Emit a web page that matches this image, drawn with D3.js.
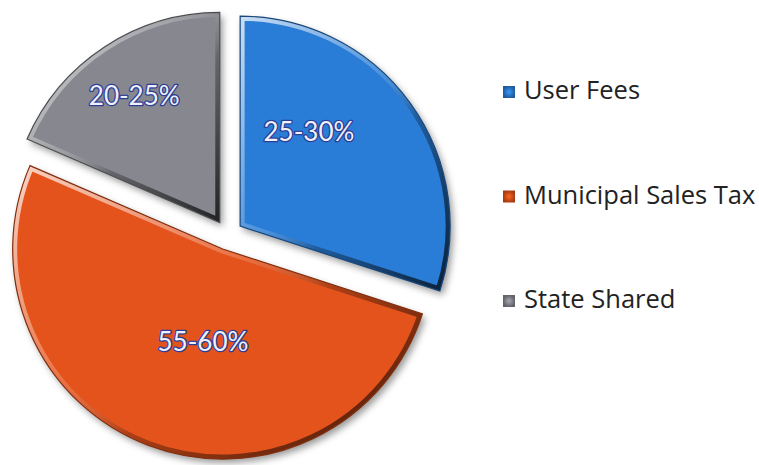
<!DOCTYPE html>
<html>
<head>
<meta charset="utf-8">
<script src="https://d3js.org/d3.v7.min.js"></script>
<style>
  html, body { margin: 0; padding: 0; background: #fff; }
  svg { display: block; }
</style>
</head>
<body>
<div id="vis-container"></div>
<script>
// Revenue sources pie (exploded)
const categories = ["User Fees", "Municipal Sales Tax", "State Shared"];
const shares = [30, 51.5, 18.5];
const sliceLabels = ["25-30%", "55-60%", "20-25%"];
const colors = ["#2c7dd6", "#e5521a", "#87888f"];

const width = 759;
const height = 465;
const center = [228, 235];
const radius = 210;
const explode = 15;

// label spots: angle (deg, clockwise from top) and distance from slice tip
const labelSpots = [[36, 117], [192, 95], [326, 153]];

const svg = d3.select("#vis-container")
  .append("svg")
  .attr("width", width)
  .attr("height", height);

const defs = svg.append("defs");

const shadow = defs.append("filter")
  .attr("id", "shadow")
  .attr("x", "-20%").attr("y", "-20%")
  .attr("width", "140%").attr("height", "140%");
shadow.append("feDropShadow")
  .attr("dx", 3).attr("dy", 4)
  .attr("stdDeviation", 3.5)
  .attr("flood-color", "#000")
  .attr("flood-opacity", 0.4);

const bevel = defs.append("linearGradient")
  .attr("id", "bevel")
  .attr("x1", 0).attr("y1", 0).attr("x2", 1).attr("y2", 1);
bevel.append("stop").attr("offset", "0%").attr("stop-color", "#fff").attr("stop-opacity", 0.75);
bevel.append("stop").attr("offset", "45%").attr("stop-color", "#fff").attr("stop-opacity", 0.15);
bevel.append("stop").attr("offset", "60%").attr("stop-color", "#000").attr("stop-opacity", 0.25);
bevel.append("stop").attr("offset", "100%").attr("stop-color", "#000").attr("stop-opacity", 0.75);

const pie = d3.pie().sort(null).value(d => d)(shares);
const arc = d3.arc().innerRadius(0).outerRadius(radius);

const slices = svg.append("g")
  .attr("transform", `translate(${center[0]},${center[1]})`)
  .selectAll("g.slice")
  .data(pie)
  .enter()
  .append("g")
  .attr("class", "slice")
  .attr("transform", d => {
    const mid = (d.startAngle + d.endAngle) / 2;
    return `translate(${Math.sin(mid) * explode},${-Math.cos(mid) * explode})`;
  });

slices.each(function (d, i) {
  defs.append("clipPath").attr("id", "clip" + i)
    .append("path").attr("d", arc(d));
});

slices.append("path")
  .attr("d", arc)
  .attr("fill", (d, i) => colors[i])
  .attr("filter", "url(#shadow)");

slices.append("path")
  .attr("d", arc)
  .attr("fill", "none")
  .attr("stroke", "url(#bevel)")
  .attr("stroke-width", 9)
  .attr("stroke-linejoin", "round")
  .attr("clip-path", (d, i) => `url(#clip${i})`);

slices.append("path")
  .attr("d", arc)
  .attr("fill", "none")
  .attr("stroke", (d, i) => d3.color(colors[i]).darker(1.6))
  .attr("stroke-width", 1.2);

slices.append("text")
  .text((d, i) => sliceLabels[i])
  .attr("x", (d, i) => Math.sin(labelSpots[i][0] * Math.PI / 180) * labelSpots[i][1])
  .attr("y", (d, i) => -Math.cos(labelSpots[i][0] * Math.PI / 180) * labelSpots[i][1])
  .attr("dy", "0.36em")
  .attr("text-anchor", "middle")
  .attr("font-family", "Lato, 'Open Sans', sans-serif")
  .attr("font-size", 26)
  .attr("fill", "#eef0fb")
  .attr("stroke", "#2c3d96")
  .attr("stroke-width", 2.6)
  .attr("paint-order", "stroke")
  .attr("stroke-linejoin", "round");

// legend
const legend = svg.append("g")
  .selectAll("g.item")
  .data(categories)
  .enter()
  .append("g")
  .attr("class", "item")
  .attr("transform", (d, i) => `translate(503,${99 + i * 104.5})`);

legend.each(function (d, i) {
  const g = defs.append("radialGradient").attr("id", "mk" + i);
  g.append("stop").attr("offset", "0%").attr("stop-color", d3.color(colors[i]).brighter(0.6));
  g.append("stop").attr("offset", "100%").attr("stop-color", d3.color(colors[i]).darker(0.9));
});

legend.append("rect")
  .attr("x", 0)
  .attr("y", -13)
  .attr("width", 12)
  .attr("height", 12)
  .attr("fill", (d, i) => `url(#mk${i})`);

legend.append("text")
  .text(d => d)
  .attr("x", 21)
  .attr("y", 0)
  .attr("font-family", "'Open Sans', sans-serif")
  .attr("font-size", 25.5)
  .attr("fill", "#222");
</script>
</body>
</html>
